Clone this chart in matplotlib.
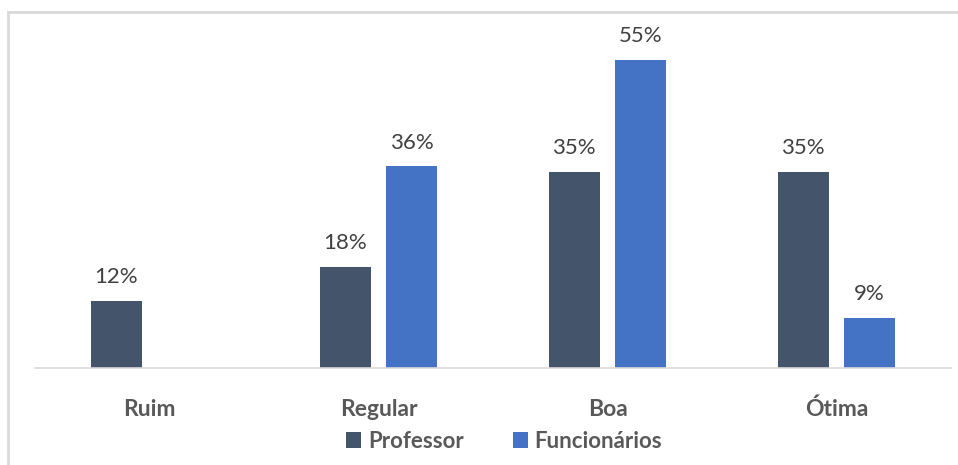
import numpy as np
import matplotlib.pyplot as plt
from matplotlib.patches import Rectangle

categorias = ['Ruim', 'Regular', 'Boa', 'Ótima']
professor = [12, 18, 35, 35]
funcionarios = [0, 36, 55, 9]

cor_prof = '#44546A'
cor_func = '#4472C4'

plt.rcParams['font.family'] = ['Lato', 'DejaVu Sans']

fig = plt.figure(figsize=(9.58, 4.65), dpi=100)
ax = fig.add_axes([35 / 958, 97 / 465, 916 / 958, 336 / 465])

x = np.arange(len(categorias))
largura = 0.223
desloc = 0.145

b1 = ax.bar(x - desloc, professor, largura, color=cor_prof, label='Professor')
b2 = ax.bar(x + desloc, funcionarios, largura, color=cor_func, label='Funcionários')

for barras, valores in ((b1, professor), (b2, funcionarios)):
    for barra, v in zip(barras, valores):
        if v == 0:
            continue
        ax.annotate(f'{v}%', (barra.get_x() + barra.get_width() / 2, v),
                    xytext=(0, 10), textcoords='offset points',
                    ha='center', va='bottom', fontsize=16, color='#404040')

ax.set_xlim(-0.5, 3.5)
ax.set_ylim(0, 60)
ax.set_yticks([])
ax.set_xticks(x)
ax.set_xticklabels(categorias, fontsize=16.5, fontweight='bold', color='#595959')
ax.tick_params(axis='x', length=0, pad=22)
for lado in ('top', 'right', 'left'):
    ax.spines[lado].set_visible(False)
ax.spines['bottom'].set_color('#d9d9d9')
ax.spines['bottom'].set_linewidth(1.2)

leg = fig.legend(handles=[b1, b2], loc='center', bbox_to_anchor=(504 / 958, 1 - 441 / 465),
                 ncol=2, frameon=False, handlelength=0.7, handleheight=0.7,
                 handletextpad=0.3, columnspacing=2.2,
                 prop={'size': 16, 'weight': 'bold'})
for t in leg.get_texts():
    t.set_color('#595959')

# moldura da área do gráfico
fig.patches.append(Rectangle((7.5 / 958, -0.1), 1.2, 1.1 - 12.5 / 465,
                             transform=fig.transFigure, fill=False,
                             edgecolor='#d9d9d9', linewidth=2))

fig.savefig('out.png', dpi=100)
